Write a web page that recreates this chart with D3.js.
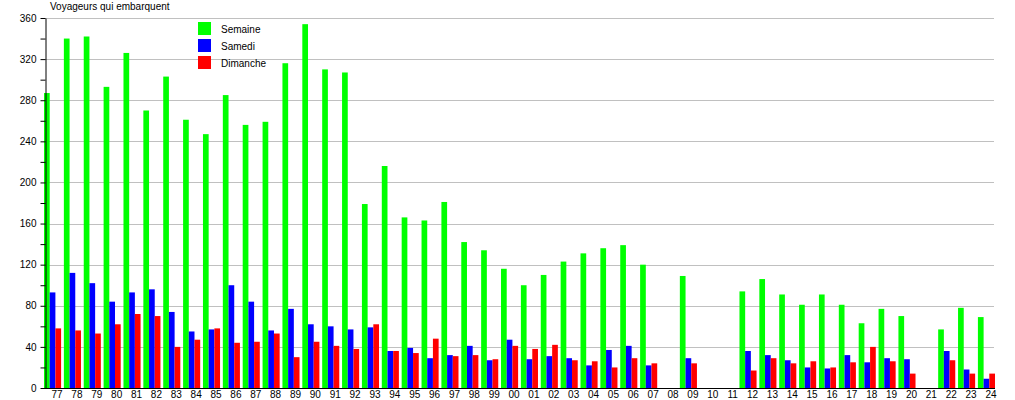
<!DOCTYPE html>
<html>
<head>
<meta charset="utf-8">
<script src="https://cdn.jsdelivr.net/npm/d3@7"></script>
<style>
  body { margin: 0; background: #fff; }
  svg text { font-family: "Liberation Sans", Arial, sans-serif; font-size: 10px; fill: #000; }
</style>
</head>
<body>
<svg id="chart" width="1015" height="400"></svg>
<script>
// -------- data --------
const years = ["77","78","79","80","81","82","83","84","85","86","87","88","89","90","91","92",
  "93","94","95","96","97","98","99","00","01","02","03","04","05","06","07","08",
  "09","10","11","12","13","14","15","16","17","18","19","20","21","22","23","24"];

const semaine = [287,340,342,293,326,270,303,261,247,285,256,259,316,354,310,307,
  179,216,166,163,181,142,134,116,100,110,123,131,136,139,120,0,
  109,0,0,94,106,91,81,91,81,63,77,70,0,57,78,69];

const samedi = [93,112,102,84,93,96,74,55,57,100,84,56,77,62,60,57,
  59,36,39,29,32,41,27,47,28,31,29,22,37,41,22,0,
  29,0,0,36,32,27,20,19,32,25,29,28,0,36,18,9];

const dimanche = [58,56,53,62,72,70,40,47,58,44,45,53,30,45,41,38,
  62,36,34,48,31,32,28,41,38,42,27,26,20,29,24,0,
  24,0,0,17,29,24,26,20,25,40,26,14,0,27,14,14];

const seriesNames = ["Semaine", "Samedi", "Dimanche"];
const seriesColors = ["#00ff00", "#0000ff", "#ff0000"];
const yMax = 360;

// initial setup
const svg = d3.select("#chart"),
  margin = { left: 45, right: 20, top: 18, bottom: 12 },
  width = +svg.attr("width"),
  height = +svg.attr("height"),
  plotRight = width - margin.right,
  plotBottom = height - margin.bottom;

const rows = years.map((y, i) => ({
  year: y,
  values: [semaine[i], samedi[i], dimanche[i]]
}));

// scales
const x0 = d3.scaleBand()
  .domain(years)
  .range([margin.left - 1, plotRight])
  .paddingInner(0.14)
  .paddingOuter(0);

const x1 = d3.scaleBand()
  .domain(d3.range(seriesNames.length))
  .range([0, x0.bandwidth()]);

const y = d3.scaleLinear()
  .domain([0, yMax])
  .range([plotBottom, margin.top]);

// gridlines
svg.append("g")
  .selectAll("line")
  .data(d3.range(40, yMax + 1, 40))
  .enter()
  .append("line")
  .attr("x1", margin.left)
  .attr("x2", plotRight - 1)
  .attr("y1", d => Math.round(y(d)) + 0.5)
  .attr("y2", d => Math.round(y(d)) + 0.5)
  .attr("stroke", "#c0c0c0")
  .attr("stroke-width", 1);

// bars
svg.append("g")
  .selectAll("g")
  .data(rows)
  .enter()
  .append("g")
  .attr("transform", d => "translate(" + x0(d.year) + ",0)")
  .selectAll("rect")
  .data(d => d.values.map((v, k) => ({ k: k, v: v })))
  .enter()
  .append("rect")
  .attr("x", d => x1(d.k))
  .attr("width", x1.bandwidth())
  .attr("y", d => y(d.v))
  .attr("height", d => y(0) - y(d.v))
  .attr("fill", d => seriesColors[d.k]);

// y axis
const yAxis = d3.axisLeft(y)
  .tickValues(d3.range(0, yMax + 1, 20))
  .tickFormat(d => (d % 40 === 0 ? d : ""))
  .tickSize(5)
  .tickSizeOuter(0)
  .tickPadding(4);

svg.append("g")
  .attr("transform", "translate(" + (margin.left + 0.5) + ",0)")
  .call(yAxis)
  .call(g => g.selectAll("text").style("font-size", "10px").attr("fill", "#000"))
  .call(g => g.selectAll("line, path").attr("stroke", "#000"));

// x axis labels (no ticks)
svg.append("g")
  .attr("transform", "translate(4.5," + plotBottom + ")")
  .call(d3.axisBottom(x0).tickSize(0).tickPadding(3))
  .call(g => g.select(".domain").remove())
  .call(g => g.selectAll("text").style("font-size", "10px").attr("fill", "#000"));

// x axis line
svg.append("line")
  .attr("x1", margin.left)
  .attr("x2", plotRight)
  .attr("y1", Math.round(plotBottom) + 0.5)
  .attr("y2", Math.round(plotBottom) + 0.5)
  .attr("stroke", "#000");

// title
svg.append("text")
  .attr("x", 50)
  .attr("y", 10)
  .text("Voyageurs qui embarquent");

// legend
const legend = svg.append("g")
  .attr("transform", "translate(198,22)");

const legendEntry = legend.selectAll("g")
  .data(seriesNames)
  .enter()
  .append("g")
  .attr("transform", (d, i) => "translate(0," + i * 17 + ")");

legendEntry.append("rect")
  .attr("width", 13)
  .attr("height", 13)
  .attr("fill", (d, i) => seriesColors[i]);

legendEntry.append("text")
  .attr("x", 23)
  .attr("y", 11)
  .text(d => d);
</script>
</body>
</html>
